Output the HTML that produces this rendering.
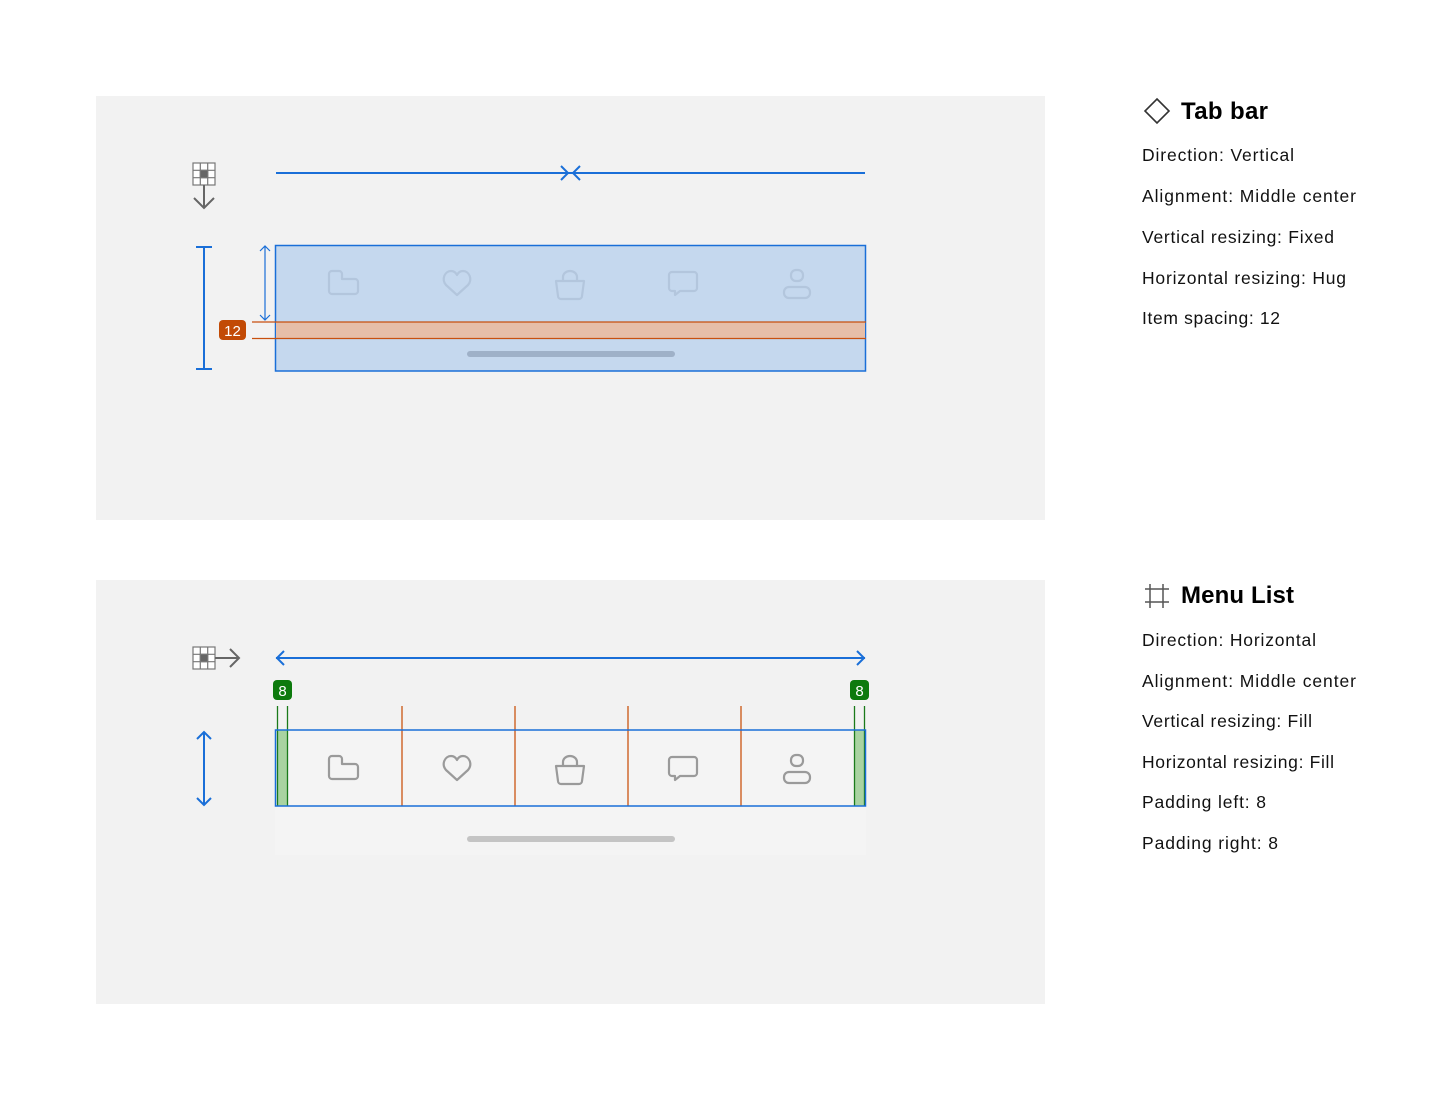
<!DOCTYPE html>
<html><head><meta charset="utf-8"><style>
body{margin:0;background:#fff;width:1454px;height:1101px;overflow:hidden;font-family:"Liberation Sans",sans-serif}
</style></head><body>
<svg width="1454" height="1101" viewBox="0 0 1454 1101" xmlns="http://www.w3.org/2000/svg" font-family="Liberation Sans, sans-serif">
<defs>
<g id="ic" fill="none" stroke-width="2.2" stroke-linejoin="round" stroke-linecap="round">
<path d="M-15,-11 a3,3 0 0 1 3,-3 h7 a3,3 0 0 1 3,3 v5 h13 a3,3 0 0 1 3,3 v9 a3,3 0 0 1 -3,3 h-23 a3,3 0 0 1 -3,-3 z"/>
</g>
<g id="heart" fill="none" stroke-width="2.2" stroke-linejoin="round"><path d="M0,11 L-11,1 C-16,-5 -12,-13 -6,-13 C-3,-13 -1,-11 0,-9 C1,-11 3,-13 6,-13 C12,-13 16,-5 11,1 Z"/></g>
<g id="bag" fill="none" stroke-width="2.2" stroke-linejoin="round"><path d="M-14,-5 h28 l-2,15 a3,3 0 0 1 -3,3 h-18 a3,3 0 0 1 -3,-3 z M-7,-5 v-4 a7,6 0 0 1 14,0 v4"/></g>
<g id="chat" fill="none" stroke-width="2.2" stroke-linejoin="round"><path d="M-11,-12 h22 a3,3 0 0 1 3,3 v13 a3,3 0 0 1 -3,3 h-14 l-5,4 v-4 h-3 a3,3 0 0 1 -3,-3 v-13 a3,3 0 0 1 3,-3 z"/></g>
<g id="user" fill="none" stroke-width="2.2" stroke-linejoin="round"><rect x="-6" y="-15" width="12" height="11" rx="5"/><rect x="-13" y="2" width="26" height="11" rx="5"/></g>
<g id="grid" fill="none" stroke="#777" stroke-width="1.2"><rect x="0" y="0" width="22" height="22" fill="#fff"/><path d="M7.3,0v22M14.7,0v22M0,7.3h22M0,14.7h22"/><rect x="7.3" y="7.3" width="7.4" height="7.4" fill="#666"/></g>
</defs>
<rect x="96" y="96" width="949" height="424" fill="#f2f2f2"/>
<rect x="96" y="580" width="949" height="424" fill="#f2f2f2"/>

<!-- TOP -->
<use href="#grid" x="193" y="163"/>
<path d="M204,185 v23 M194,198 l10,10 l10,-10" stroke="#666" stroke-width="2" fill="none"/>
<g stroke="#1a6fd8" stroke-width="2" fill="none">
<path d="M276,173 H865"/>
<path d="M561,166 l7,7 l-7,7 M580,166 l-7,7 l7,7"/>
<path d="M204,247 V369 M196,247 h16 M196,369 h16"/>
</g>
<g stroke="#1a6fd8" stroke-width="1.2" fill="none"><path d="M265,246 V320 M260,251 l5,-5 l5,5 M260,315 l5,5 l5,-5"/></g>
<rect x="275.5" y="245.5" width="590" height="125.5" fill="#c5d8ee" stroke="#1a6fd8" stroke-width="1.5"/>
<rect x="276" y="322" width="589" height="16" fill="#e6bea8"/>
<path d="M252,322 H866 M252,338.5 H866" stroke="#c8500f" stroke-width="1.3"/>
<rect x="219" y="320" width="27" height="20" rx="4" fill="#c24a05"/>
<text x="232.5" y="336" font-size="15" fill="#fff" text-anchor="middle">12</text>
<rect x="467" y="351" width="208" height="6" rx="3" fill="#9fb1c8"/>
<g stroke="#b3c6dd">
<use href="#ic" x="344" y="285"/><use href="#heart" x="457" y="284"/><use href="#bag" x="570" y="286"/><use href="#chat" x="683" y="284"/><use href="#user" x="797" y="285"/>
</g>

<!-- BOTTOM -->
<use href="#grid" x="193" y="647"/>
<path d="M215,658 h24 M230,649 l9,9 l-9,9" stroke="#666" stroke-width="2" fill="none"/>
<g stroke="#1a6fd8" stroke-width="2" fill="none">
<path d="M276,658 H865 M284,651 l-7,7 l7,7 M857,651 l7,7 l-7,7"/>
<path d="M204,732 V805 M197,739 l7,-7 l7,7 M197,798 l7,7 l7,-7"/>
</g>
<rect x="275" y="730" width="591" height="125" fill="#f4f4f4"/>
<rect x="467" y="836" width="208" height="6" rx="3" fill="#c4c4c4"/>
<rect x="277" y="730" width="10" height="76" fill="#a9d3a1"/>
<rect x="854" y="730" width="10" height="76" fill="#a9d3a1"/>
<g stroke="#1a7a1a" stroke-width="1.3"><path d="M277.5,706 V806 M287.5,706 V806 M854.5,706 V806 M864.5,706 V806"/></g>
<g stroke="#d06a30" stroke-width="1.5"><path d="M402,706 V806 M515,706 V806 M628,706 V806 M741,706 V806"/></g>
<rect x="275.5" y="730" width="590" height="76" fill="none" stroke="#1a6fd8" stroke-width="1.5"/>
<rect x="273" y="680" width="19" height="20" rx="4" fill="#0d7a0d"/>
<text x="282.5" y="696" font-size="15" fill="#fff" text-anchor="middle">8</text>
<rect x="850" y="680" width="19" height="20" rx="4" fill="#0d7a0d"/>
<text x="859.5" y="696" font-size="15" fill="#fff" text-anchor="middle">8</text>
<g stroke="#9a9a9a">
<use href="#ic" x="344" y="770"/><use href="#heart" x="457" y="769"/><use href="#bag" x="570" y="771"/><use href="#chat" x="683" y="769"/><use href="#user" x="797" y="770"/>
</g>

<!-- RIGHT TEXT -->
<path d="M1157,99 l12,12 l-12,12 l-12,-12 z" fill="none" stroke="#333" stroke-width="1.6"/>
<text x="1181" y="119" font-size="24" font-weight="bold" fill="#000" textLength="87">Tab bar</text>
<g font-size="17.5" fill="#111">
<text x="1142" y="161" textLength="152">Direction: Vertical</text>
<text x="1142" y="202" textLength="214">Alignment: Middle center</text>
<text x="1142" y="243" textLength="192">Vertical resizing: Fixed</text>
<text x="1142" y="284" textLength="204">Horizontal resizing: Hug</text>
<text x="1142" y="324" textLength="138">Item spacing: 12</text>
</g>
<path d="M1150,584 v24 M1163,584 v24 M1145,589 h24 M1145,602 h24" stroke="#555" stroke-width="1.5"/>
<text x="1181" y="603" font-size="24" font-weight="bold" fill="#000" textLength="113">Menu List</text>
<g font-size="17.5" fill="#111">
<text x="1142" y="646" textLength="174">Direction: Horizontal</text>
<text x="1142" y="687" textLength="214">Alignment: Middle center</text>
<text x="1142" y="727" textLength="170">Vertical resizing: Fill</text>
<text x="1142" y="768" textLength="192">Horizontal resizing: Fill</text>
<text x="1142" y="808" textLength="124">Padding left: 8</text>
<text x="1142" y="849" textLength="136">Padding right: 8</text>
</g>
</svg>
</body></html>
